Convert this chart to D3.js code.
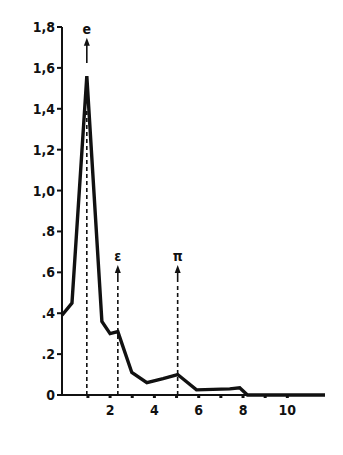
<!DOCTYPE html>
<html>
<head>
<meta charset="utf-8">
<script src="https://cdn.jsdelivr.net/npm/d3@7"></script>
<style>
  body { margin: 0; background: #fff; }
  svg text { font-family: "Liberation Sans Narrow", "DejaVu Sans Condensed", sans-serif; font-weight: bold; fill: #111; }
</style>
</head>
<body>
<svg id="chart" width="343" height="455"></svg>
<script>
// curve
const curveX = [-0.17, 0.28, 0.95, 1.63, 2.0, 2.35, 2.98, 3.66, 4.39, 5.05, 5.9, 7.4, 7.85, 8.2, 11.7];
const curveY = [0.39, 0.45, 1.56, 0.36, 0.30, 0.31, 0.11, 0.06, 0.08, 0.10, 0.025, 0.03, 0.035, 0.0, 0.0];

// marked positions (arrows): tip = value where the arrow head points
const markers = [
  { label: "e", x: 0.95, tip: 1.747, base: 1.56, gap: true },
  { label: "ε", x: 2.35, tip: 0.636 },
  { label: "π", x: 5.05, tip: 0.636 }
];

const yTicks = [0, 0.2, 0.4, 0.6, 0.8, 1.0, 1.2, 1.4, 1.6, 1.8];
const yTickLabels = ["0", ".2", ".4", ".6", ".8", "1,0", "1,2", "1,4", "1,6", "1,8"];
const xTicks = [1, 2, 3, 4, 5, 6, 7, 8, 9, 10];

const svg = d3.select("#chart");
const x = d3.scaleLinear().domain([-0.17, 11.7]).range([62, 325]);
const y = d3.scaleLinear().domain([0, 1.8]).range([395, 27]);

// axes
svg.append("line").attr("x1", x(-0.17)).attr("x2", x(11.7))
  .attr("y1", y(0)).attr("y2", y(0)).attr("stroke", "#111").attr("stroke-width", 2);
svg.append("line").attr("x1", x(-0.17)).attr("x2", x(-0.17))
  .attr("y1", y(0)).attr("y2", y(1.8)).attr("stroke", "#111").attr("stroke-width", 2);

yTicks.forEach((t, i) => {
  svg.append("line").attr("x1", x(-0.17) - 5).attr("x2", x(-0.17))
    .attr("y1", y(t)).attr("y2", y(t)).attr("stroke", "#111").attr("stroke-width", 2);
  svg.append("text").attr("x", x(-0.17) - 7).attr("y", y(t) + 5)
    .attr("text-anchor", "end").style("font-size", "14px").text(yTickLabels[i]);
});

xTicks.forEach(t => {
  svg.append("line").attr("x1", x(t)).attr("x2", x(t))
    .attr("y1", y(0)).attr("y2", y(0) + 3).attr("stroke", "#111").attr("stroke-width", 3);
  if (t % 2 === 0) {
    svg.append("text").attr("x", x(t)).attr("y", y(0) + 20)
      .attr("text-anchor", "middle").style("font-size", "14px").text(t);
  }
});

// curve
const line = d3.line().x((d, i) => x(curveX[i])).y(d => y(d));
svg.append("path").datum(curveY).attr("d", line)
  .attr("fill", "none").attr("stroke", "#111").attr("stroke-width", 3.4)
  .attr("stroke-linejoin", "miter");

// arrows
markers.forEach(m => {
  const px = x(m.x);
  const tip = y(m.tip);
  svg.append("line").attr("x1", px).attr("x2", px)
    .attr("y1", y(0)).attr("y2", m.gap ? y(m.base) + 35 : tip + 19)
    .attr("stroke", "#111").attr("stroke-width", 1.6).attr("stroke-dasharray", "4,3");
  const shaftEnd = m.gap ? y(m.base) - 13 : tip + 17;
  svg.append("line").attr("x1", px).attr("x2", px)
    .attr("y1", tip + 5).attr("y2", shaftEnd)
    .attr("stroke", "#111").attr("stroke-width", 1.6);
  svg.append("path")
    .attr("d", `M${px},${tip} L${px - 3},${tip + 8} L${px + 3},${tip + 8} Z`)
    .attr("fill", "#111");
  svg.append("text").attr("x", px).attr("y", tip - 4)
    .attr("text-anchor", "middle").style("font-size", "14px").text(m.label);
});
</script>
</body>
</html>
